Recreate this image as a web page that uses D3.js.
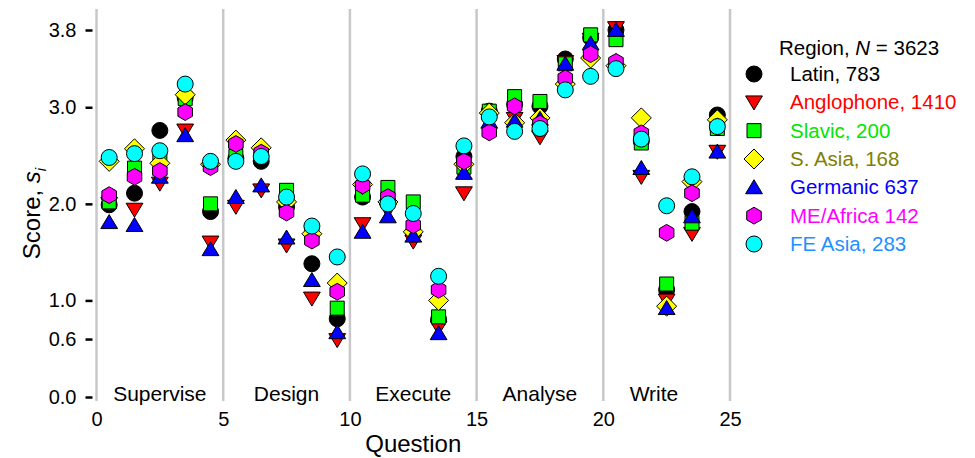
<!DOCTYPE html>
<html>
<head>
<meta charset="utf-8">
<script src="https://cdn.jsdelivr.net/npm/d3@7"></script>
<style>
  body { margin: 0; background: #fff; }
  svg { font-family: Arial, 'Liberation Sans', sans-serif; }
</style>
</head>
<body>
<div id="chart"></div>
<script>
// question index 1..25, plotted at q - 0.5
const questions = d3.range(1, 26);
const groupNames = ['Supervise', 'Design', 'Execute', 'Analyse', 'Write'];
const groupLabelX = [2.5, 7.5, 12.5, 17.5, 22];
const dividers = [0, 5, 10, 15, 20, 25];
const xTicks = [0, 5, 10, 15, 20, 25];
const yTicks = [0.0, 0.6, 1.0, 2.0, 3.0, 3.8];

const latin      = [1.99, 2.11, 2.76, 3.10, 1.92, 2.47, 2.44, 1.97, 1.38, 0.81, 2.07, 2.02, 1.70, 0.80, 2.49, 2.96, 3.03, 3.01, 3.50, 3.72, 3.80, 2.65, 1.11, 1.92, 2.92];
const anglophone = [2.00, 1.94, 2.21, 2.76, 1.60, 1.97, 2.14, 1.57, 1.02, 0.59, 1.79, 1.93, 1.61, 0.72, 2.11, 2.86, 2.88, 2.69, 3.47, 3.70, 3.82, 2.28, 1.00, 1.69, 2.54];
const slavic     = [2.02, 2.37, 2.47, 3.09, 2.00, 2.49, 2.50, 2.14, 1.72, 0.92, 2.09, 2.17, 2.02, 0.83, 2.38, 2.96, 3.11, 3.06, 3.45, 3.75, 3.70, 2.63, 1.17, 1.80, 2.78];
const sAsia      = [2.44, 2.57, 2.42, 3.13, 2.41, 2.66, 2.58, 2.02, 1.69, 1.18, 2.20, 2.02, 1.71, 1.00, 2.41, 2.94, 2.84, 2.89, 3.24, 3.51, 3.43, 2.89, 0.94, 2.23, 2.87];
const germanic   = [1.81, 1.78, 2.28, 2.71, 1.53, 2.07, 2.19, 1.65, 1.21, 0.67, 1.71, 1.87, 1.67, 0.66, 2.32, 2.85, 2.86, 2.88, 3.45, 3.66, 3.80, 2.37, 0.92, 1.87, 2.54];
const meAfrica   = [2.09, 2.28, 2.34, 2.95, 2.38, 2.62, 2.53, 1.91, 1.62, 1.09, 2.19, 2.07, 1.78, 1.11, 2.44, 2.74, 3.01, 2.83, 3.30, 3.55, 3.47, 2.73, 1.70, 2.11, 2.80];
const feAsia     = [2.48, 2.52, 2.55, 3.24, 2.44, 2.44, 2.49, 2.07, 1.77, 1.45, 2.31, 2.00, 1.90, 1.25, 2.60, 2.90, 2.75, 2.78, 3.18, 3.32, 3.40, 2.67, 1.98, 2.28, 2.80];

const regionLabels = ['Latin, 783', 'Anglophone, 1410', 'Slavic, 200', 'S. Asia, 168', 'Germanic 637', 'ME/Africa 142', 'FE Asia, 283'];
const totalN = 3623;

// custom marker shapes, r = half size in px
const shapes = {
  circle: (p, r) => { p.moveTo(r, 0); p.arc(0, 0, r, 0, 2 * Math.PI); },
  square: (p, r) => { p.rect(-r, -r, 2 * r, 2 * r); },
  diamond: (p, r) => { const h = r * 1.25; p.moveTo(0, -h); p.lineTo(h, 0); p.lineTo(0, h); p.lineTo(-h, 0); p.closePath(); },
  triUp: (p, r) => { const w = r * 1.05; p.moveTo(0, -r * 0.95); p.lineTo(w, r * 0.8); p.lineTo(-w, r * 0.8); p.closePath(); },
  triDown: (p, r) => { const w = r * 1.05; p.moveTo(0, r * 0.95); p.lineTo(w, -r * 0.8); p.lineTo(-w, -r * 0.8); p.closePath(); },
  hexagon: (p, r) => {
    const R = r * 1.05;
    for (let k = 0; k < 6; k++) {
      const a = Math.PI / 6 + k * Math.PI / 3;
      const px = R * Math.cos(a), py = R * Math.sin(a);
      if (k === 0) p.moveTo(px, py); else p.lineTo(px, py);
    }
    p.closePath();
  }
};
function markerPath(shape, r) {
  const p = d3.path();
  shapes[shape](p, r);
  return p.toString();
}

const series = [
  { name: regionLabels[0], values: latin,      fill: '#000000', text: '#000000', shape: 'circle',  r: 8 },
  { name: regionLabels[1], values: anglophone, fill: '#ff0000', text: '#ff0000', shape: 'triDown', r: 8 },
  { name: regionLabels[2], values: slavic,     fill: '#00ff00', text: '#00e600', shape: 'square',  r: 7 },
  { name: regionLabels[3], values: sAsia,      fill: '#ffff00', text: '#808000', shape: 'diamond', r: 8 },
  { name: regionLabels[4], values: germanic,   fill: '#0000ff', text: '#0000ff', shape: 'triUp',   r: 8 },
  { name: regionLabels[5], values: meAfrica,   fill: '#ff00ff', text: '#ff00ff', shape: 'hexagon', r: 8 },
  { name: regionLabels[6], values: feAsia,     fill: '#00ffff', text: '#1e90ff', shape: 'circle',  r: 8 }
];

const width = 975, height = 458;
const x = d3.scaleLinear().domain([0, 25]).range([96.5, 730]);
const y = d3.scaleLinear().domain([0, 3.8]).range([397, 30]);

const svg = d3.select('#chart').append('svg')
  .attr('width', width)
  .attr('height', height);

// region dividers
svg.append('g')
  .selectAll('line')
  .data(dividers)
  .enter()
  .append('line')
  .attr('x1', d => x(d))
  .attr('x2', d => x(d))
  .attr('y1', 9)
  .attr('y2', 401)
  .attr('stroke', '#c8c8c8')
  .attr('stroke-width', 2.5);

// y axis: ticks only, no domain line
const yAxis = svg.append('g')
  .attr('transform', `translate(${x(0) - 4},0)`)
  .call(d3.axisLeft(y).tickValues(yTicks).tickFormat(d3.format('.1f')).tickSize(7).tickPadding(9));
yAxis.select('.domain').remove();
yAxis.selectAll('.tick line').attr('stroke', '#000').attr('stroke-width', 2.5);
yAxis.selectAll('.tick text').attr('font-size', 20).attr('fill', '#000').attr('font-family', 'Arial, Liberation Sans, sans-serif');

// x axis: labels only
const xAxis = svg.append('g')
  .attr('transform', `translate(0,${y(0)})`)
  .call(d3.axisBottom(x).tickValues(xTicks).tickFormat(d3.format('d')).tickSize(0).tickPadding(15));
xAxis.select('.domain').remove();
xAxis.selectAll('.tick text').attr('font-size', 20).attr('fill', '#000').attr('dy', '0.71em').attr('font-family', 'Arial, Liberation Sans, sans-serif');

// group labels
svg.append('g')
  .selectAll('text')
  .data(groupNames)
  .enter()
  .append('text')
  .attr('x', (d, i) => x(groupLabelX[i]))
  .attr('y', 401)
  .attr('text-anchor', 'middle')
  .attr('font-size', 21)
  .text(d => d);

// axis titles
svg.append('text')
  .attr('x', x(12.5))
  .attr('y', 452)
  .attr('text-anchor', 'middle')
  .attr('font-size', 24)
  .text('Question');

const yTitle = svg.append('text')
  .attr('transform', `translate(40,${y(1.9)}) rotate(-90)`)
  .attr('text-anchor', 'middle')
  .attr('font-size', 24);
yTitle.append('tspan').text('Score, ');
yTitle.append('tspan').attr('font-style', 'italic').text('s');
yTitle.append('tspan').attr('font-style', 'italic').attr('font-size', 15).attr('dy', 6).text('i');

// points, drawn in series order so later series sit on top
series.forEach(s => {
  svg.append('g')
    .selectAll('path')
    .data(s.values)
    .enter()
    .append('path')
    .attr('transform', (d, i) => `translate(${x(questions[i] - 0.5)},${y(d)})`)
    .attr('d', markerPath(s.shape, s.r))
    .attr('fill', s.fill)
    .attr('stroke', '#000')
    .attr('stroke-width', 1);
});

// legend
const legend = svg.append('g');
const legendTitle = legend.append('text')
  .attr('x', 779)
  .attr('y', 55)
  .attr('font-size', 20.5);
legendTitle.append('tspan').text('Region, ');
legendTitle.append('tspan').attr('font-style', 'italic').text('N');
legendTitle.append('tspan').text(` = ${totalN}`);

const rowY = d3.scaleLinear().domain([0, 6]).range([74, 244]);
series.forEach((s, i) => {
  legend.append('path')
    .attr('transform', `translate(754,${rowY(i)})`)
    .attr('d', markerPath(s.shape, s.r))
    .attr('fill', s.fill)
    .attr('stroke', '#000')
    .attr('stroke-width', 1);
  legend.append('text')
    .attr('x', 790)
    .attr('y', rowY(i) + 7)
    .attr('font-size', 20.5)
    .attr('fill', s.text)
    .text(s.name);
});
</script>
</body>
</html>
